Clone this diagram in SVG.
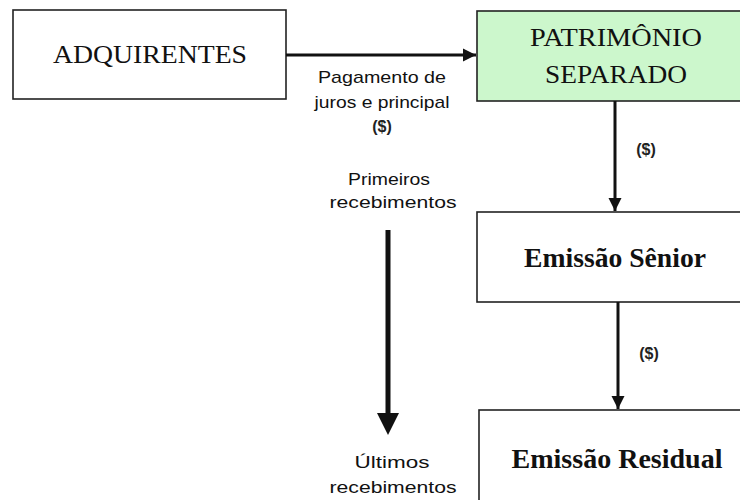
<svg xmlns="http://www.w3.org/2000/svg" width="740" height="500" viewBox="0 0 740 500">
<style>
.box{stroke:#222;stroke-width:1.6;fill:#fff}
.green{fill:#ccf7cc}
.ser{font-family:"Liberation Serif","Times New Roman",serif;fill:#111;text-anchor:middle}
.sans{font-family:"Liberation Sans",Arial,sans-serif;fill:#111;text-anchor:middle;font-size:17px}
.lbl{font-family:"Liberation Sans",Arial,sans-serif;fill:#222;text-anchor:middle;font-size:16px;font-weight:bold}
.conn{stroke:#111;stroke-width:3;fill:none}
</style>
<defs>
<marker id="ah" viewBox="0 0 10 10" refX="10" refY="5" markerWidth="4.5" markerHeight="4.5" markerUnits="strokeWidth" orient="auto">
<path d="M0,0 L10,5 L0,10 z" fill="#111"/>
</marker>
</defs>
<rect width="740" height="500" fill="#fff"/>
<g id="adquirentes">
<rect class="box" x="13" y="10" width="273" height="89"/>
<text class="ser" x="150" y="63" font-size="26" textLength="194" lengthAdjust="spacingAndGlyphs">ADQUIRENTES</text>
</g>
<g id="patrimonio">
<rect class="box green" x="477" y="11" width="280" height="90"/>
<text class="ser" x="616" y="46" font-size="26" textLength="172" lengthAdjust="spacingAndGlyphs">PATRIMÔNIO</text>
<text class="ser" x="616" y="83" font-size="26" textLength="142" lengthAdjust="spacingAndGlyphs">SEPARADO</text>
</g>
<g id="senior">
<rect class="box" x="477" y="212" width="280" height="90"/>
<text class="ser" x="615" y="267" font-size="27" font-weight="bold" textLength="182" lengthAdjust="spacingAndGlyphs">Emissão Sênior</text>
</g>
<g id="residual">
<rect class="box" x="479" y="410" width="280" height="100"/>
<text class="ser" x="617" y="468" font-size="28" font-weight="bold" textLength="211" lengthAdjust="spacingAndGlyphs">Emissão Residual</text>
</g>
<g id="connectors">
<line class="conn" x1="286" y1="55" x2="476" y2="55" marker-end="url(#ah)"/>
<line class="conn" x1="615" y1="101" x2="615" y2="211" marker-end="url(#ah)"/>
<line class="conn" x1="618" y1="302" x2="618" y2="409" marker-end="url(#ah)"/>
<line x1="388" y1="230" x2="388" y2="415" stroke="#111" stroke-width="5"/>
<path d="M377,413 L399,413 L388,435 z" fill="#111"/>
</g>
<g id="labels">
<text class="sans" x="382" y="83" textLength="128" lengthAdjust="spacingAndGlyphs">Pagamento de</text>
<text class="sans" x="382" y="108" textLength="135" lengthAdjust="spacingAndGlyphs">juros e principal</text>
<text class="lbl" x="382" y="132">($)</text>
<text class="lbl" x="646" y="155">($)</text>
<text class="lbl" x="649" y="359">($)</text>
<text class="sans" x="389" y="185" textLength="82" lengthAdjust="spacingAndGlyphs">Primeiros</text>
<text class="sans" x="393" y="208" textLength="127" lengthAdjust="spacingAndGlyphs">recebimentos</text>
<text class="sans" x="392" y="468" textLength="75" lengthAdjust="spacingAndGlyphs">Últimos</text>
<text class="sans" x="393" y="493" textLength="127" lengthAdjust="spacingAndGlyphs">recebimentos</text>
</g>
</svg>
